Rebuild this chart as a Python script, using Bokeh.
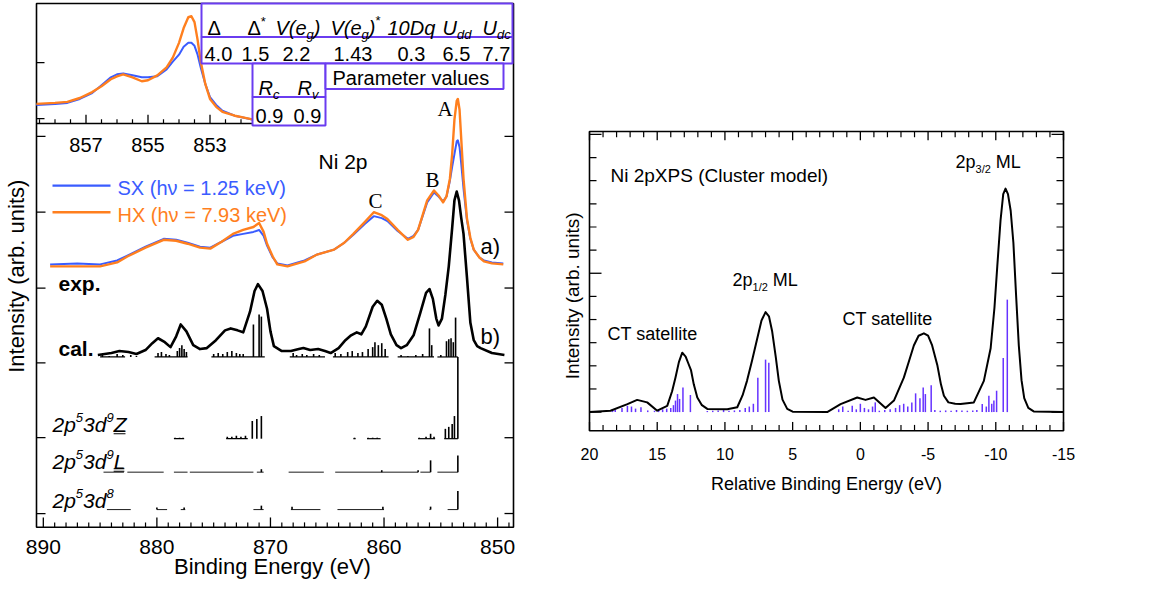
from bokeh.plotting import figure
from bokeh.models import Range1d
from bokeh.embed import file_html
from bokeh.resources import INLINE
from bokeh.core.properties import value
import math

SANS = "Liberation Sans"
SERIF = "Liberation Serif"
BLUE = "#3a5cff"
ORANGE = "#ff7f1e"
PURPLE = "#6a3cf0"
STICK = "#6633ff"

# ---------------- left panel data (binding energy eV, intensity arb.) ----------------
exp_x = [889.4, 887.0, 885.0, 883.5, 882.6, 881.0, 879.4, 878.3, 877.3, 876.2, 875.3, 874.3,
         873.3, 872.4, 871.5, 871.0, 870.6, 870.3, 869.8, 869.4, 868.5, 867.0, 865.9, 864.4,
         863.5, 862.7, 861.7, 860.9, 860.2, 859.7, 858.8, 857.9, 857.4, 857.0, 856.6, 856.2,
         855.6, 855.2, 854.8, 854.5, 854.2, 854.0, 853.8, 853.6, 853.5, 853.35, 853.2, 853.0,
         852.7, 852.4, 852.1, 851.6, 851.2, 850.5, 849.5]
hx_y = [251, 251, 251, 255, 261, 270, 278, 277, 274, 270, 269, 276,
        284, 288, 291, 295, 286, 274, 261, 253, 251, 256, 263, 268,
        275, 284, 296, 306, 303, 299, 288, 278, 281, 288, 303, 318,
        328, 323, 316, 322, 340, 365, 400, 419, 421, 410, 380, 340,
        300, 280, 268, 260, 256, 254, 253]
sx_y = [253, 254, 253, 257, 262, 271, 279, 278, 275, 271, 270, 276,
        282, 284, 286, 288, 282, 272, 260, 254, 252, 257, 263, 268,
        275, 283, 294, 302, 300, 297, 287, 279, 282, 288, 302, 316,
        326, 322, 317, 322, 338, 352, 365, 378, 379, 372, 355, 330,
        298, 279, 268, 260, 257, 255, 254]

# inset (zoom of the 2p3/2 main line)
ins_x = [858.6, 858.0, 857.6, 857.2, 856.8, 856.5, 856.2, 856.0, 855.8, 855.5, 855.2, 855.0,
         854.7, 854.4, 854.2, 854.0, 853.85, 853.7, 853.6, 853.5, 853.4, 853.3, 853.15, 853.0,
         852.8, 852.6, 852.2, 851.9, 851.6]
ins_hx = [416, 417, 418, 422, 428, 434, 441, 444, 446, 443, 439, 440,
          445, 453, 463, 478, 493, 504, 505, 499, 481, 459, 436, 421,
          413, 408, 404, 402, 400]
ins_sx = [415, 416, 417, 421, 427, 435, 443, 446, 447, 445, 443, 443,
          444, 451, 459, 466, 474, 478, 478, 475, 466, 453, 436, 423,
          415, 409, 404, 402, 400]
ins_major = [857, 855, 853]
ins_labels = ["857", "855", "853"]
ins_minor = [858.5, 858.0, 857.5, 856.5, 856.0, 855.5, 854.5, 854.0, 853.5, 852.5, 852.0, 851.5]

# calculated spectrum (broadened)
cal_x = [885.2, 884.0, 883.3, 882.5, 881.8, 881.0, 880.4, 879.9, 879.3, 878.8, 878.3, 877.9,
         877.4, 876.8, 876.2, 875.6, 874.8, 874.0, 873.5, 872.9, 872.4, 871.8, 871.4, 871.1,
         870.7, 870.3, 870.0, 869.7, 869.0, 868.2, 867.5, 867.1, 866.5, 865.8, 865.2, 864.7,
         864.0, 863.4, 862.9, 862.4, 862.0, 861.6, 861.0, 860.6, 860.2, 859.8, 859.4, 858.9,
         858.5, 858.0, 857.4, 856.8, 856.3, 856.0, 855.7, 855.4, 855.2, 854.9, 854.6, 854.3,
         854.0, 853.8, 853.6, 853.4, 853.2, 853.0, 852.7, 852.4, 852.1, 851.8, 851.5, 850.5, 849.4]
cal_y = [161, 163, 165, 164, 162, 166, 173, 178, 174, 169, 180, 192,
         185, 171, 167, 168, 176, 186, 188, 186, 184, 205, 226, 233,
         226, 208, 185, 170, 165, 165, 167, 168, 166, 167, 165, 163,
         168, 176, 181, 184, 182, 190, 210, 216, 212, 198, 182, 171,
         168, 171, 181, 204, 224, 228, 218, 198, 191, 198, 222, 251,
         290, 318, 327, 318, 300, 284, 240, 194, 176, 170, 168, 163, 161]

# stick spectra and the offsets of the stacked rows
CAL_BASE, Z_BASE, L_BASE, D8_BASE = 159, 76, 42, 4
cal_st_x = [884.8, 884.2, 883.5, 883.0, 882.3, 881.8, 879.9, 879.6, 879.2, 878.9, 878.2, 878.0,
            877.8, 877.6, 877.4, 875.0, 874.6, 874.2, 873.8, 873.4, 873.0, 872.7, 872.4, 871.5,
            871.0, 870.8, 868.0, 867.7, 867.2, 866.8, 866.2, 865.7, 864.3, 863.8, 863.2, 862.8,
            862.3, 861.9, 861.4, 861.0, 860.8, 860.5, 860.2, 859.9, 858.5, 857.9, 857.2, 856.6,
            856.0, 855.8, 855.0, 854.5, 854.3, 854.1, 853.9, 853.7]
cal_st_h = [2, 1, 3, 2, 2, 1, 4, 5, 3, 2, 6, 9,
            12, 8, 5, 3, 4, 3, 5, 6, 4, 3, 3, 33,
            43, 41, 4, 2, 3, 2, 3, 2, 4, 3, 5, 6,
            4, 5, 8, 10, 15, 12, 14, 8, 2, 1, 2, 3,
            29, 12, 2, 16, 18, 19, 15, 40]
cal_dash = [(885.0, 882.8), (880.2, 877.3), (875.2, 870.5), (868.3, 865.2), (864.5, 859.6),
            (858.8, 855.6), (855.3, 853.5)]
z_x = [878.4, 878.0, 877.7, 873.8, 873.4, 873.0, 872.6, 872.2, 871.6, 871.2, 870.8, 862.6,
       861.4, 861.0, 860.6, 856.9, 856.3, 855.9, 855.6, 854.6, 854.3, 854.0, 853.8, 853.5]
z_h = [1, 1, 1, 2, 2, 3, 2, 3, 18, 20, 23, 1,
       1, 1, 1, 1, 2, 5, 2, 10, 12, 15, 23, 83]
z_dash = [(878.5, 877.6), (873.9, 872.0), (862.7, 862.5), (861.5, 860.3), (857.0, 855.5), (854.7, 853.5)]
l_x = [870.8, 860.2, 857.0, 855.9, 853.5]
l_h = [3, 2, 2, 12, 17]
l_dash = [(884.7, 882.9), (882.6, 879.4), (878.5, 877.3), (877.1, 871.5), (871.2, 870.6),
          (868.4, 865.3), (864.3, 857.0), (856.8, 855.9), (855.3, 853.5)]
d8_x = [880.0, 877.6, 870.8, 868.1, 860.1, 855.9, 853.5]
d8_h = [2, 2, 4, 3, 3, 3, 19]
d8_dash = [(884.4, 882.3), (880.0, 879.1), (877.9, 877.5), (871.5, 870.6), (868.2, 865.6),
           (864.1, 860.0), (856.0, 855.9), (854.4, 853.5)]

lx_major = [890, 880, 870, 860, 850]
lx_labels = ["890", "880", "870", "860", "850"]
lx_minor = [v for v in range(849, 891) if v % 10]
ly_ticks = [0, 77, 153, 229, 306, 383]
ly_inset_ticks = [401, 458]

param_values = ["4.0", "1.5", "2.2", "1.43", "0.3", "6.5", "7.7"]
r_values = ["0.9", "0.9"]

# ---------------- right panel data (relative binding energy eV) ----------------
rc_x = [20.0, 18.45, 17.2, 16.48, 15.74, 15.0, 14.26, 13.9, 13.65, 13.4, 13.15, 12.9, 12.7, 12.5,
        12.3, 12.04, 11.7, 11.3, 9.83, 9.09, 8.7, 8.37, 8.0, 7.64, 7.3, 7.0, 6.75, 6.51, 6.25,
        6.02, 5.75, 5.4, 5.0, 2.45, 1.46, 0.23, -0.38, -1.0, -1.86, -2.48, -3.21, -3.6, -3.95,
        -4.3, -4.69, -5.0, -5.3, -5.68, -5.95, -6.17, -6.5, -7.0, -7.4, -8.38, -9.12, -9.62,
        -9.9, -10.11, -10.35, -10.55, -10.72, -10.9, -11.1, -11.3, -11.5, -11.7, -11.9, -12.1,
        -12.4, -12.8, -15.0]
rc_y = [0.0, 0.01, 0.057, 0.088, 0.07, 0.01, 0.045, 0.15, 0.25, 0.36, 0.428, 0.40, 0.35, 0.30,
        0.2, 0.105, 0.05, 0.023, 0.02, 0.035, 0.12, 0.225, 0.37, 0.52, 0.66, 0.72, 0.69, 0.58, 0.40,
        0.225, 0.09, 0.023, 0.003, 0.0, 0.057, 0.105, 0.088, 0.105, 0.03, 0.083, 0.248, 0.37, 0.48,
        0.55, 0.567, 0.55, 0.48, 0.34, 0.2, 0.118, 0.07, 0.06, 0.059, 0.07, 0.225, 0.46,
        0.75, 1.05, 1.38, 1.57, 1.61, 1.57, 1.45, 1.22, 0.84, 0.48, 0.23, 0.1,
        0.03, 0.005, 0.0]
rs_x = [18.3, 18.1, 17.6, 17.2, 16.9, 16.6, 16.2, 15.7, 15.2, 14.9, 14.6, 14.3, 14.0, 13.8, 13.65,
        13.5, 13.35, 13.1, 12.55, 11.3, 10.9, 10.5, 10.1, 9.7, 9.3, 8.9, 8.5, 8.2, 7.9, 7.57, 7.0,
        6.76, 1.6, 1.3, 0.9, 0.6, 0.3, 0.0, -0.3, -0.6, -0.9, -1.1, -1.4, -1.8, -2.2, -2.6, -2.9,
        -3.2, -3.5, -3.8, -4.08, -4.4, -4.64, -4.8, -5.23, -5.5, -5.9, -6.3, -6.7, -7.1, -7.5,
        -7.9, -8.3, -8.6, -9.0, -9.3, -9.49, -9.7, -9.86, -10.06, -10.55, -10.85]
rs_h = [0.02, 0.015, 0.03, 0.045, 0.04, 0.025, 0.035, 0.012, 0.01, 0.015, 0.02, 0.025, 0.03, 0.05,
        0.083, 0.13, 0.095, 0.177, 0.123, 0.008, 0.01, 0.012, 0.015, 0.01, 0.012, 0.015, 0.03, 0.04,
        0.06, 0.248, 0.378, 0.355, 0.02, 0.04, 0.01, 0.045, 0.02, 0.06, 0.03, 0.02, 0.04, 0.07,
        0.01, 0.015, 0.02, 0.03, 0.05, 0.06, 0.04, 0.07, 0.135, 0.1, 0.177, 0.13, 0.194, 0.015,
        0.01, 0.012, 0.01, 0.015, 0.012, 0.01, 0.012, 0.015, 0.059, 0.04, 0.118, 0.06, 0.083,
        0.154, 0.39, 0.81]
rx_major = [20, 15, 10, 5, 0, -5, -10, -15]
rx_labels = ["20", "15", "10", "5", "0", "-5", "-10", "-15"]
rx_minor = [v for v in range(-15, 21) if v % 5]
ry_major = [0, 1, 2]
ry_minor = [k / 6 for k in range(0, 13) if k % 6]

# ---------------- canvas & scales ----------------
W, H = 1137, 579
CX = (0, 1137)     # picture pixels covered horizontally
CY = (588, 0)      # reference pixels mapped to canvas bottom / top
BASE_FIX = 0.21    # baseline correction (fraction of font size)


def span(d0, q0, d1, q1, lim):
    s = (d1 - d0) / (q1 - q0)
    return Range1d(d0 + (lim[0] - q0) * s, d0 + (lim[1] - q0) * s)


p = figure(width=W, height=H, x_range=Range1d(*CX), y_range=Range1d(*CY),
           output_backend="svg", toolbar_location=None, min_border=0,
           x_axis_location=None, y_axis_location=None)
p.outline_line_color = None
p.xgrid.visible = False
p.ygrid.visible = False
p.extra_x_ranges = {
    "L": span(890.6, 36, 848.6, 513, CX),
    "I": span(857, 85.5, 855, 147.5, CX),
    "R": span(20, 589, -15, 1063, CX),
}
p.extra_y_ranges = {
    "L": span(0, 521, 383, 138, CY),
    "R": span(0, 418, 1, 277, CY),
}

AW = {' ': 278, '(': 333, ')': 333, '*': 389, '.': 278, '/': 278, '=': 584,
      'A': 667, 'B': 667, 'C': 722, 'D': 722, 'E': 667, 'L': 556, 'M': 833, 'N': 722, 'P': 667,
      'Q': 778, 'R': 722, 'S': 667, 'T': 611, 'U': 722, 'V': 667, 'X': 667, 'Z': 611,
      'a': 556, 'b': 556, 'c': 500, 'd': 556, 'e': 556, 'g': 556, 'h': 556, 'i': 222, 'k': 500,
      'l': 222, 'm': 833, 'n': 556, 'o': 556, 'p': 556, 'q': 556, 'r': 333, 's': 500, 't': 278,
      'u': 556, 'v': 500, 'x': 500, 'y': 500, '\u0394': 668, '\u03bd': 520}


def tw(s, size):
    return sum(AW.get(c, 556) for c in s) * size / 1000.0


def txt(x, y, t, size, font=SANS, style="normal", color="black", align="left",
        baseline="alphabetic", angle=0.0, xr="default", yr="default"):
    ys = y if isinstance(y, list) else [y]
    if baseline == "alphabetic":
        ys = [v - BASE_FIX * size for v in ys]
    p.text(x=x if isinstance(x, list) else [x], y=ys,
           text=t if isinstance(t, list) else [t], text_font=value(font),
           text_font_size=f"{size}px", text_font_style=style, text_color=color,
           text_align=align, text_baseline=baseline, angle=angle,
           x_range_name=xr, y_range_name=yr)


def rich(x0, y0, segs, color="black"):
    x = x0
    for t, size, dy, style in segs:
        stripped = t.lstrip(" ")
        x += tw(t[:len(t) - len(stripped)], size)
        txt(x, y0 - dy, stripped, size, style=style, color=color)
        x += tw(stripped, size)
    return x


def seg(x0, x1, y0, y1, color="black", lw=1.3, xr="default", yr="default"):
    p.segment(x0=x0, x1=x1, y0=y0, y1=y1, line_color=color, line_width=lw,
              x_range_name=xr, y_range_name=yr)


# ================= LEFT PANEL =================
p.quad(left=[36], right=[513], top=[3], bottom=[535], fill_color=None, line_color="black",
       line_width=1.6)
n = len(lx_major)
seg(lx_major, lx_major, [535] * n, [525] * n, xr="L")
seg(lx_minor, lx_minor, [535] * len(lx_minor), [530] * len(lx_minor), lw=1.2, xr="L")
txt(lx_major, [559] * n, lx_labels, 21, align="center", xr="L")
txt(272, 579, "Binding Energy (eV)", 22, align="center")
nl = len(ly_ticks)
seg([36] * nl, [45] * nl, ly_ticks, ly_ticks, yr="L")
seg([513] * nl, [504] * nl, ly_ticks, ly_ticks, yr="L")
seg([36] * 2, [44] * 2, ly_inset_ticks, ly_inset_ticks, yr="L")
txt(16, 280, "Intensity (arb. units)", 22, align="center", baseline="middle", angle=math.pi / 2)

# experimental spectra
p.line(exp_x, sx_y, line_color=BLUE, line_width=2.0, line_join="round",
       x_range_name="L", y_range_name="L")
p.line(exp_x, hx_y, line_color=ORANGE, line_width=2.4, line_join="round",
       x_range_name="L", y_range_name="L")


def sticks(xs, hs, base, lw=1.6):
    seg(xs, xs, [base] * len(xs), [base + h for h in hs], lw=lw, xr="L", yr="L")


def dashes(pairs, base, lw=1.2):
    seg([a for a, b in pairs], [b for a, b in pairs], [base] * len(pairs), [base] * len(pairs),
        lw=lw, xr="L", yr="L")


dashes(cal_dash, CAL_BASE)
sticks(cal_st_x, cal_st_h, CAL_BASE)
dashes(z_dash, Z_BASE)
sticks(z_x, z_h, Z_BASE)
dashes(l_dash, L_BASE, lw=0.9)
sticks(l_x, l_h, L_BASE)
dashes(d8_dash, D8_BASE, lw=0.9)
sticks(d8_x, d8_h, D8_BASE)

p.line(cal_x, cal_y, line_color="black", line_width=2.6, line_join="round",
       x_range_name="L", y_range_name="L")

# inset
p.line(ins_x, ins_sx, line_color=BLUE, line_width=2.0, line_join="round",
       x_range_name="I", y_range_name="L")
p.line(ins_x, ins_hx, line_color=ORANGE, line_width=2.4, line_join="round",
       x_range_name="I", y_range_name="L")
seg([36], [252], [125], [125], lw=1.5)
seg(ins_major, ins_major, [125] * 3, [116] * 3, xr="I")
seg(ins_minor, ins_minor, [125] * len(ins_minor), [120.5] * len(ins_minor), lw=1.2, xr="I")
txt(ins_major, [151] * 3, ins_labels, 20, align="center", xr="I")

# parameter table
boxes = [(201, 512, 3, 37), (201, 512, 37, 64), (252, 325, 64, 98), (252, 325, 98, 127),
         (325, 503, 64, 90)]
p.quad(left=[b[0] for b in boxes], right=[b[1] for b in boxes], top=[b[2] for b in boxes],
       bottom=[b[3] for b in boxes], fill_color="white", line_color=PURPLE, line_width=2)
TS, SS = 20, 13
hdr_x = [207, 247, 275, 330, 387, 442, 482]
rich(hdr_x[0], 32, [("\u0394", TS, 0, "normal")])
rich(hdr_x[1], 32, [("\u0394", TS, 0, "normal"), ("*", SS, 8, "normal")])
rich(hdr_x[2], 32, [("V(e", TS, 0, "italic"), ("g", SS, -5, "italic"), (")", TS, 0, "italic")])
rich(hdr_x[3], 32, [("V(e", TS, 0, "italic"), ("g", SS, -5, "italic"), (")", TS, 0, "italic"),
                    ("*", SS, 9, "normal")])
rich(hdr_x[4], 32, [("10Dq", TS, 0, "italic")])
rich(hdr_x[5], 32, [("U", TS, 0, "italic"), ("dd", SS, -5, "italic")])
rich(hdr_x[6], 32, [("U", TS, 0, "italic"), ("dc", SS, -5, "italic")])
val_x = [204, 241, 282, 333, 397, 442, 482]
for vx, v in zip(val_x, param_values):
    rich(vx, 59, [(v, TS, 0, "normal")])
rich(258, 93, [("R", TS, 0, "italic"), ("c", SS, -5, "italic")])
rich(297, 93, [("R", TS, 0, "italic"), ("v", SS, -5, "italic")])
for vx, v in zip([255, 293], r_values):
    rich(vx, 122, [(v, TS, 0, "normal")])
rich(332, 83, [("Parameter values", TS, 0, "normal")])

# labels
rich(318, 168, [("Ni 2p", 21, 0, "normal")])
for lab, lx, lyy in [("A", 437, 115), ("B", 425, 187), ("C", 368, 208)]:
    txt(lx, lyy, lab, 21, font=SERIF)
rich(480, 254, [("a)", 22, 0, "normal")])
rich(480, 346, [("b)", 22, 0, "normal")])
rich(58, 292, [("exp.", 21, 0, "bold")])
rich(58, 358, [("cal.", 21, 0, "bold")])

# legend
seg([52], [110], [188], [188], color=BLUE, lw=2.4)
seg([52], [110], [215], [215], color=ORANGE, lw=2.4)
rich(117, 195, [("SX (h\u03bd = 1.25 keV)", 20, 0, "normal")], color=BLUE)
rich(117, 222, [("HX (h\u03bd = 7.93 keV)", 20, 0, "normal")], color=ORANGE)

# configuration labels
CS, CSS = 21, 13
for base_y, last in [(435, "Z"), (473, "L"), (512, None)]:
    segs = [("2p", CS, 0, "italic"), ("5", CSS, 9, "italic"), ("3d", CS, 0, "italic"),
            ("9" if last else "8", CSS, 9, "italic")]
    if last:
        segs.append((last, CS, 0, "italic"))
    xe = rich(52, base_y, segs)
    if last:
        w = tw(last, CS)
        seg([xe - w, xe - w], [xe - 1, xe - 1], [base_y + 2.5, base_y + 5],
            [base_y + 2.5, base_y + 5], lw=1.1)

# ================= RIGHT PANEL =================
p.segment(x0=rs_x, x1=rs_x, y0=[0] * len(rs_x), y1=rs_h, line_color=STICK, line_width=1.5,
          x_range_name="R", y_range_name="R")
p.line(rc_x, rc_y, line_color="black", line_width=2.0, line_join="round",
       x_range_name="R", y_range_name="R")

p.quad(left=[589], right=[1063], top=[133], bottom=[437], fill_color=None, line_color="black",
       line_width=1.6)
nm, nn = len(rx_major), len(rx_minor)
seg(rx_major, rx_major, [437] * nm, [428] * nm, xr="R")
seg(rx_minor, rx_minor, [437] * nn, [431] * nn, lw=1.2, xr="R")
seg(rx_major, rx_major, [133] * nm, [142] * nm, xr="R")
seg(rx_minor, rx_minor, [133] * nn, [139] * nn, lw=1.2, xr="R")
ym, yn = len(ry_major), len(ry_minor)
seg([589] * ym, [601] * ym, ry_major, ry_major, yr="R")
seg([589] * yn, [596] * yn, ry_minor, ry_minor, lw=1.2, yr="R")
seg([1063] * ym, [1051] * ym, ry_major, ry_major, yr="R")
seg([1063] * yn, [1056] * yn, ry_minor, ry_minor, lw=1.2, yr="R")
txt(rx_major, [464] * nm, rx_labels, 16, align="center", xr="R")
txt(826, 495, "Relative Binding Energy (eV)", 18, align="center")
txt(572, 300, "Intensity (arb. units)", 19, align="center", baseline="middle", angle=math.pi / 2)

rich(610, 182, [("Ni 2pXPS (Cluster model)", 19, 0, "normal")])
rich(955, 168, [("2p", 18, 0, "normal"), ("3/2", 11, -5, "normal"), (" ML", 18, 0, "normal")])
rich(732, 288, [("2p", 18, 0, "normal"), ("1/2", 11, -5, "normal"), (" ML", 18, 0, "normal")])
rich(607, 342, [("CT satellite", 18, 0, "normal")])
rich(842, 327, [("CT satellite", 18, 0, "normal")])

open("out.html", "w").write(file_html(p, INLINE))
